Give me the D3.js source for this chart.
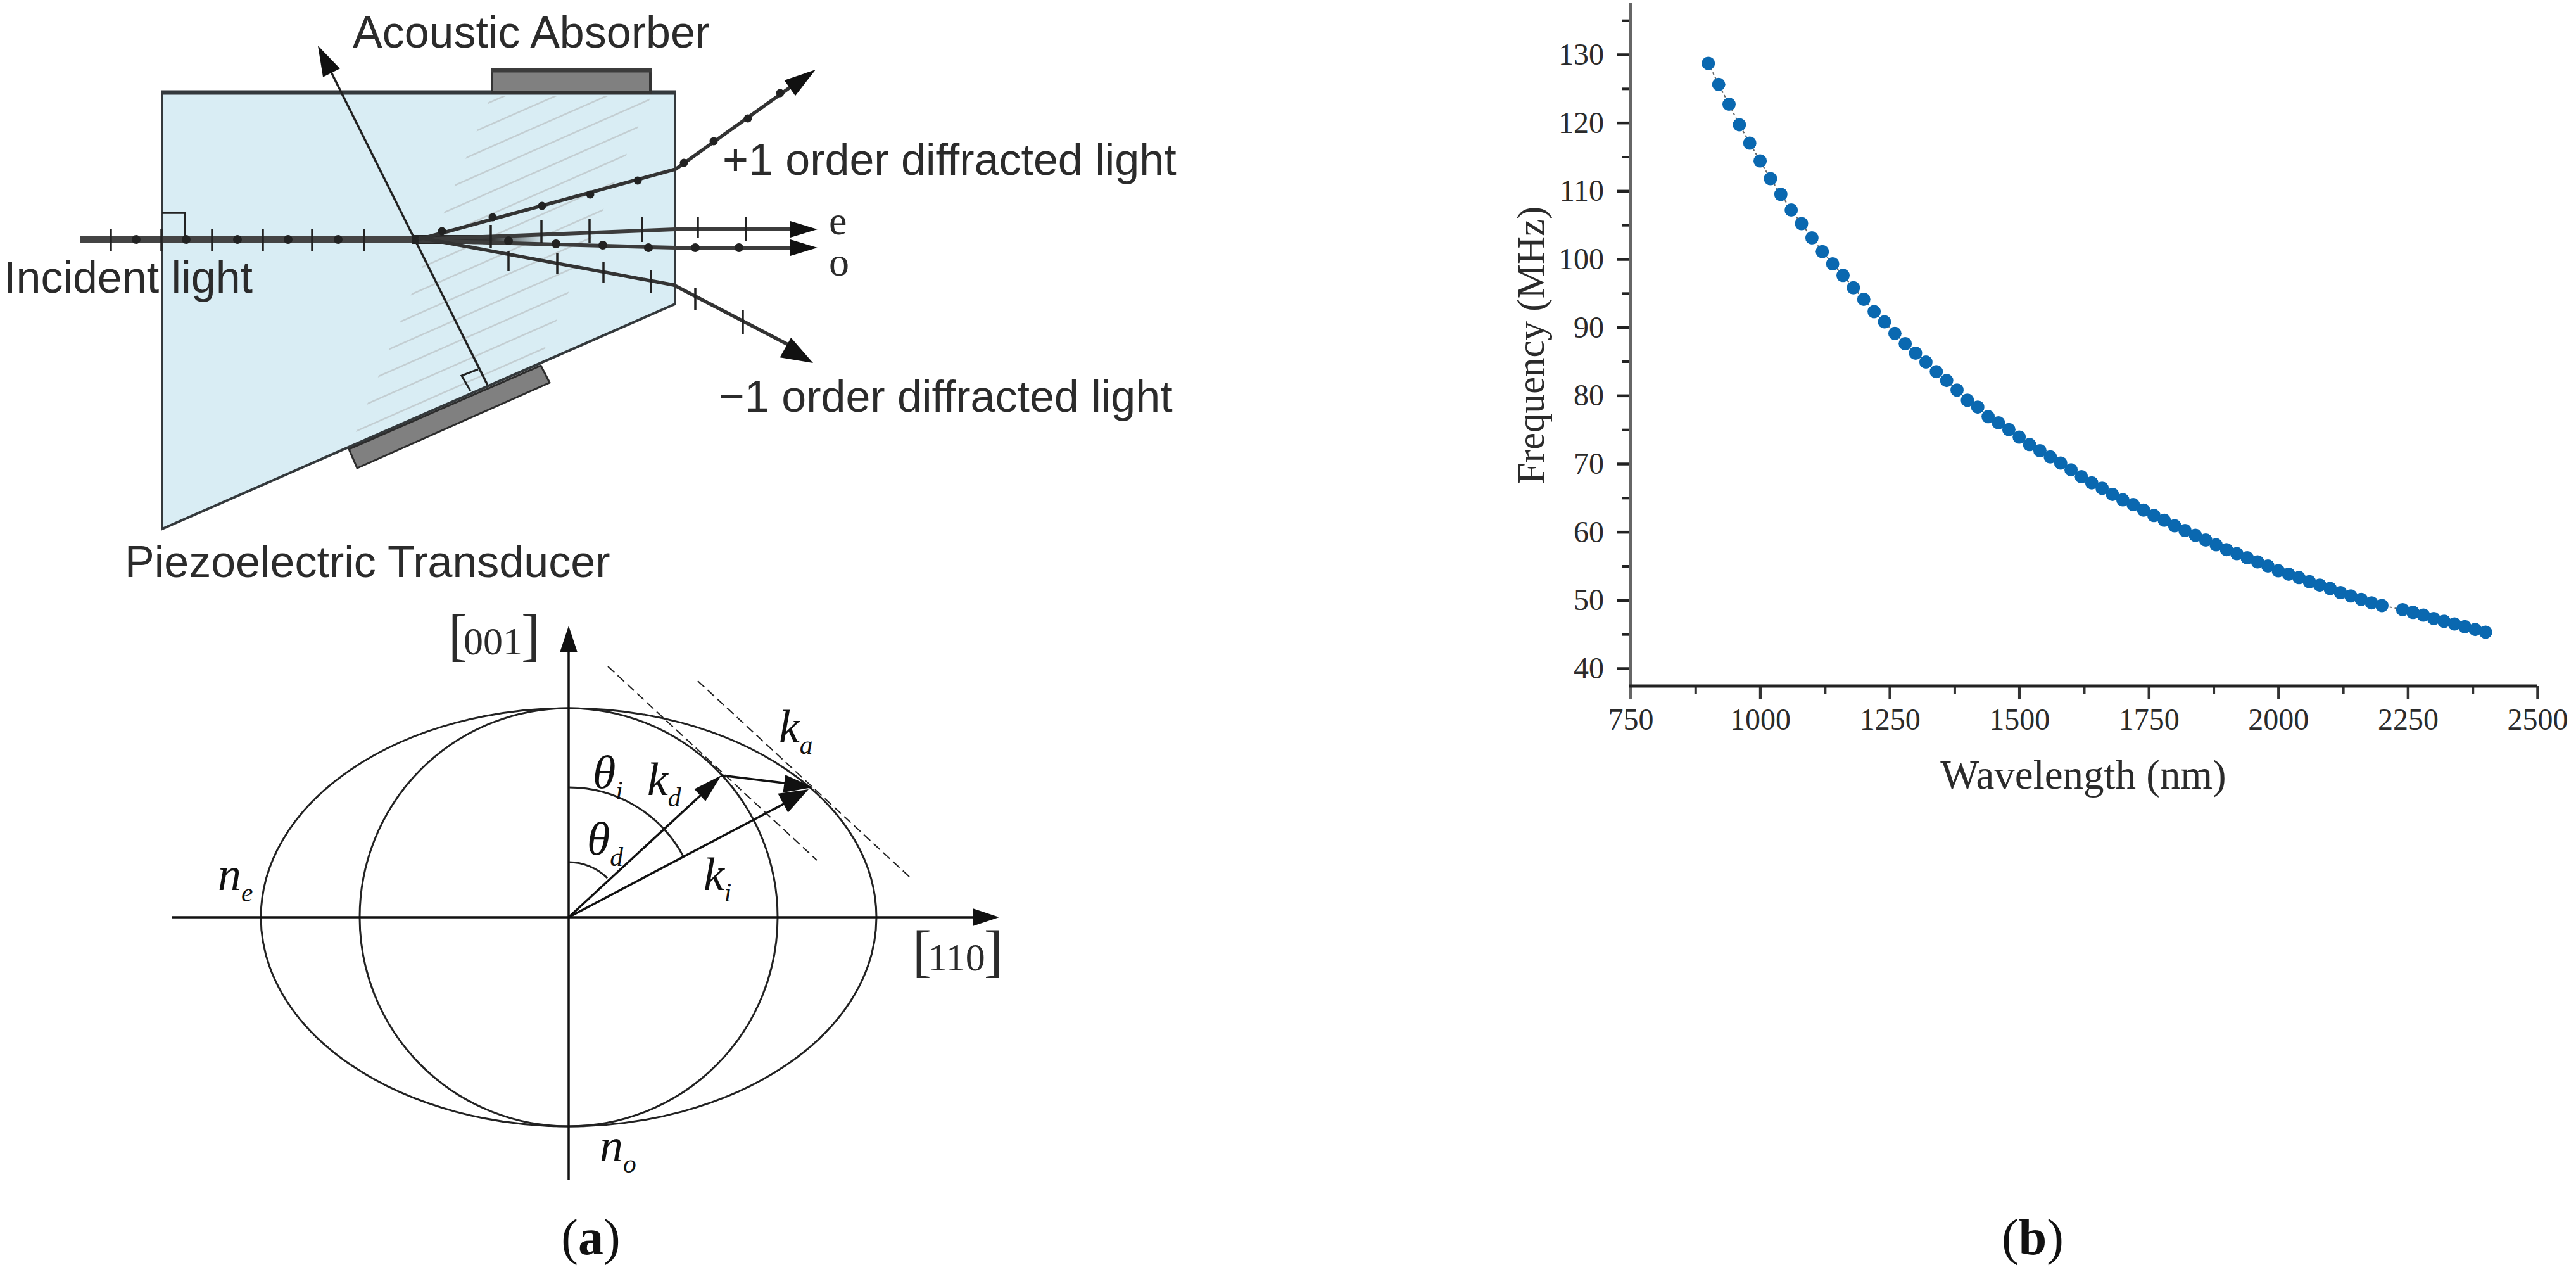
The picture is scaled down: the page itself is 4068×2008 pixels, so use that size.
<!DOCTYPE html>
<html>
<head>
<meta charset="utf-8">
<script src="https://cdn.jsdelivr.net/npm/d3@7"></script>
<style>
  body { margin: 0; background: #fff; }
  svg { display: block; }
  .sans { font-family: "Liberation Sans", Arial, sans-serif; fill: #2b2b2b; }
  .serif { font-family: "Liberation Serif", "Times New Roman", serif; fill: #2b2b2b; }
  .ital { font-family: "Liberation Serif", "Times New Roman", serif; font-style: italic; fill: #111; }
</style>
</head>
<body>
<div id="chart"></div>
<script>
// panel (b) values
var wavelength = [900,920,940,960,980,1000,1020,1040,1060,1080,1100,1120,1140,1160,1180,1200,1220,
    1240,1260,1280,1300,1320,1340,1360,1380,1400,1420,1440,1460,1480,1500,1520,1540,1560,1580,
    1600,1620,1640,1660,1680,1700,1720,1740,1760,1780,1800,1820,1840,1860,1880,1900,1920,1940,
    1960,1980,2000,2020,2040,2060,2080,2100,2120,2140,2160,2180,2200,2240,2260,2280,2300,2320,
    2340,2360,2380,2400];
var frequency = [128.7,125.6,122.7,119.7,117.0,114.4,111.8,109.5,107.2,105.2,103.1,101.1,99.3,97.6,95.8,94.1,92.3,
    90.8,89.1,87.6,86.2,84.9,83.5,82.2,80.8,79.3,78.3,76.9,76.0,75.0,73.9,72.8,71.9,71.0,70.1,
    69.1,68.1,67.2,66.4,65.5,64.7,64.0,63.2,62.4,61.7,60.9,60.2,59.5,58.8,58.1,57.4,56.8,56.2,
    55.6,55.0,54.3,53.8,53.3,52.7,52.2,51.7,51.1,50.6,50.1,49.6,49.2,48.6,48.2,47.8,47.3,46.9,
    46.5,46.1,45.7,45.3];
var xTicks = [750,1000,1250,1500,1750,2000,2250,2500];
var xMinor = [875,1125,1375,1625,1875,2125,2375];
var yTicks = [40,50,60,70,80,90,100,110,120,130];
var yMinor = [45,55,65,75,85,95,105,115,125,135];

var svg = d3.select("#chart").append("svg")
    .attr("width", 4068)
    .attr("height", 2008);

function arrowHead(g, x1, y1, x2, y2, len, wid) {
    var a = Math.atan2(y2 - y1, x2 - x1), c = Math.cos(a), s = Math.sin(a);
    var bx = x2 - c * len, by = y2 - s * len;
    g.append("path")
        .attr("d", d3.line()([[x2, y2], [bx - s * wid / 2, by + c * wid / 2], [bx + s * wid / 2, by - c * wid / 2]]) + "Z")
        .attr("fill", "#111");
}

function polyline(g, pts, w, col) {
    g.append("path")
        .attr("d", d3.line()(pts))
        .attr("fill", "none")
        .attr("stroke", col || "#222")
        .attr("stroke-width", w);
}

function label(g, cls, x, y, size, txt) {
    return g.append("text").attr("class", cls).attr("x", x).attr("y", y)
        .style("font-size", size + "px").text(txt);
}

function subLabel(g, x, y, main, sub, size) {
    var t = g.append("text").attr("class", "ital").attr("x", x).attr("y", y).style("font-size", size + "px");
    t.append("tspan").text(main);
    t.append("tspan").attr("dy", size * 0.24).style("font-size", (size * 0.56) + "px").text(sub);
}

// ---- panel (a), crystal sketch
var top_g = svg.append("g");
var crystal = [[256,146],[1066,146],[1066,480],[256,835]];

top_g.append("path")
    .attr("d", d3.line()(crystal) + "Z")
    .attr("fill", "#d9edf4")
    .attr("stroke", "none");

// hatching of the acoustic column
svg.append("clipPath").attr("id", "hatchClip").append("path")
    .attr("d", d3.line()([[775,152],[1028,152],[858,556],[555,700]]) + "Z");
var hatch = top_g.append("g").attr("clip-path", "url(#hatchClip)");
d3.range(150, 1100, 35.5).forEach(function (y) {
    hatch.append("line")
        .attr("x1", 500).attr("y1", y + 132)
        .attr("x2", 1100).attr("y2", y - 132)
        .attr("stroke", "#c3ced2").attr("stroke-width", 2.5);
});

polyline(top_g, [[1066,146],[1066,480],[256,835],[256,146]], 4, "#34393c");
polyline(top_g, [[254,146],[1068,146]], 7, "#34393c");

top_g.append("path")
    .attr("d", d3.line()([[777,110],[1027,110],[1027,146],[777,146]]) + "Z")
    .attr("fill", "#808080").attr("stroke", "#333").attr("stroke-width", 4);
polyline(top_g, [[775,111],[1029,111]], 7, "#3c3c3c");
top_g.append("path")
    .attr("d", d3.line()([[551,709],[854,577],[868,604],[564,739]]) + "Z")
    .attr("fill", "#808080").attr("stroke", "#2c2c2c").attr("stroke-width", 3);

// acoustic wave vector
polyline(top_g, [[770,608],[512,92]], 3.5);
arrowHead(top_g, 770, 608, 502, 72, 48, 30);
polyline(top_g, [[743,617],[729,593],[755,583]], 3);

// incident beam
var beamFade = svg.append("linearGradient").attr("id", "beamFade");
beamFade.append("stop").attr("offset", 0).attr("stop-color", "#222");
beamFade.append("stop").attr("offset", 0.6).attr("stop-color", "#333");
beamFade.append("stop").attr("offset", 1).attr("stop-color", "#d9edf4");

polyline(top_g, [[126,378],[661,378]], 10, "#444");
top_g.append("rect").attr("x", 650).attr("y", 371).attr("width", 210).attr("height", 14).attr("fill", "url(#beamFade)");
polyline(top_g, [[256,336],[292,336],[292,378]], 3.5);
[175,255,335,415,493,575].forEach(function (x) {
    polyline(top_g, [[x,362],[x,397]], 3.5);
});
[215,294,375,455,534].forEach(function (x) {
    top_g.append("circle").attr("cx", x).attr("cy", 378).attr("r", 7).attr("fill", "#222");
});

// e and o rays
polyline(top_g, [[661,378],[1066,362],[1250,362]], 6, "#3c3c3c");
polyline(top_g, [[661,380],[1066,391],[1250,391]], 6, "#3c3c3c");
arrowHead(top_g, 1230, 362, 1291, 362, 43, 26);
arrowHead(top_g, 1230, 391, 1291, 391, 43, 26);
[[775,355,392],[855,348,383],[931,345,383],[1014,343,382],[1102,342,375],[1178,342,380]].forEach(function (p) {
    polyline(top_g, [[p[0],p[1]],[p[0],p[2]]], 3.5);
});
[[803,380],[878,385],[952,387],[1024,391],[1098,391],[1167,391]].forEach(function (p) {
    top_g.append("circle").attr("cx", p[0]).attr("cy", p[1]).attr("r", 7).attr("fill", "#222");
});

// +1 and -1 orders
polyline(top_g, [[661,378],[1067,267],[1270,122]], 5.5, "#333");
polyline(top_g, [[661,375],[1064,450],[1260,552]], 5.5, "#333");
arrowHead(top_g, 1067, 267, 1288, 110, 50, 30);
arrowHead(top_g, 1064, 450, 1284, 573, 50, 36);
[[698,365],[778,343],[856,325],[932,307],[1007,285],[1080,257],[1127,223],[1181,187],[1232,147]].forEach(function (p) {
    top_g.append("circle").attr("cx", p[0]).attr("cy", p[1]).attr("r", 6.5).attr("fill", "#222");
});
[[803,397,428],[880,400,432],[953,413,446],[1028,427,462],[1098,454,490],[1173,490,527]].forEach(function (p) {
    polyline(top_g, [[p[0],p[1]],[p[0],p[2]]], 3.5);
});

label(top_g, "sans", 557, 75, 70, "Acoustic Absorber");
label(top_g, "sans", 1141, 276, 70, "+1 order diffracted light");
label(top_g, "sans", 1135, 650, 70, "\u22121 order diffracted light");
label(top_g, "sans", 6, 462, 70, "Incident light");
label(top_g, "sans", 197, 911, 70, "Piezoelectric Transducer");
label(top_g, "serif", 1309, 370, 64, "e");
label(top_g, "serif", 1309, 435, 64, "o");

// ---- panel (a), index ellipse
var ell = svg.append("g");
var cx = 898, cy = 1448;

ell.append("ellipse").attr("cx", cx).attr("cy", cy).attr("rx", 486).attr("ry", 330)
    .attr("fill", "none").attr("stroke", "#222").attr("stroke-width", 3);
ell.append("circle").attr("cx", cx).attr("cy", cy).attr("r", 330)
    .attr("fill", "none").attr("stroke", "#222").attr("stroke-width", 3);

polyline(ell, [[272,cy],[1550,cy]], 3.5, "#111");
polyline(ell, [[cx,1862],[cx,1020]], 3.5, "#111");
arrowHead(ell, 272, cy, 1578, cy, 42, 28);
arrowHead(ell, cx, 1862, cx, 988, 42, 28);

polyline(ell, [[cx,cy],[1270,1252]], 3.5, "#111");
arrowHead(ell, cx, cy, 1277, 1246, 46, 34);
polyline(ell, [[cx,cy],[1134,1230]], 3.5, "#111");
arrowHead(ell, cx, cy, 1139, 1224, 46, 26);
polyline(ell, [[1139,1224],[1270,1240]], 3.5, "#111");
arrowHead(ell, 1139, 1224, 1284, 1243, 46, 28);

[[[960,1052],[1290,1358]], [[1102,1075],[1436,1384]]].forEach(function (seg) {
    ell.append("path").attr("d", d3.line()(seg))
        .attr("stroke", "#222").attr("stroke-width", 2).attr("stroke-dasharray", "14 7");
});

var arc = d3.arc().startAngle(0);
ell.append("path").attr("transform", "translate(" + cx + "," + cy + ")")
    .attr("d", arc({innerRadius: 205, outerRadius: 205, endAngle: 1.08}))
    .attr("fill", "none").attr("stroke", "#222").attr("stroke-width", 3);
ell.append("path").attr("transform", "translate(" + cx + "," + cy + ")")
    .attr("d", arc({innerRadius: 87, outerRadius: 87, endAngle: 0.78}))
    .attr("fill", "none").attr("stroke", "#222").attr("stroke-width", 3);

function bracket(g, x, y, digits) {
    var t = g.append("text").attr("class", "serif").attr("x", x).attr("y", y);
    t.append("tspan").style("font-size", "90px").text("[");
    t.append("tspan").attr("dx", -6).style("font-size", "62px").text(digits);
    t.append("tspan").attr("dx", -2).style("font-size", "90px").text("]");
}
bracket(ell, 708, 1033, "001");
bracket(ell, 1441, 1532, "110");
subLabel(ell, 936, 1244, "\u03B8", "i", 74);
subLabel(ell, 927, 1349, "\u03B8", "d", 74);
subLabel(ell, 1022, 1255, "k", "d", 74);
subLabel(ell, 1111, 1405, "k", "i", 74);
subLabel(ell, 1230, 1172, "k", "a", 74);
subLabel(ell, 344, 1405, "n", "e", 74);
subLabel(ell, 947, 1833, "n", "o", 74);

// ---- panel (b), frequency curve
var x = d3.scaleLinear().domain([750, 2500]).range([2575, 4007]);
var y = d3.scaleLinear().domain([40, 130]).range([1055, 86]);
var yBase = 1083, yTop = 5;

var plot = svg.append("g");

function styleAxis(a, col, w) {
    a.select(".domain").remove();
    a.selectAll(".tick line").attr("stroke", col).attr("stroke-width", w);
    a.selectAll(".tick text").attr("class", "serif")
        .style("font-size", "48px").attr("fill", "#2b2b2b");
}

var xAxis = plot.append("g").attr("transform", "translate(0," + yBase + ")")
    .call(d3.axisBottom(x).tickValues(xTicks).tickSize(21).tickPadding(14).tickFormat(d3.format("d")));
styleAxis(xAxis, "#333", 4.5);
var xAxisMinor = plot.append("g").attr("transform", "translate(0," + yBase + ")")
    .call(d3.axisBottom(x).tickValues(xMinor).tickSize(12).tickFormat(""));
styleAxis(xAxisMinor, "#333", 4);

var yAxis = plot.append("g").attr("transform", "translate(2575,0)")
    .call(d3.axisLeft(y).tickValues(yTicks).tickSize(21).tickPadding(21).tickFormat(d3.format("d")));
styleAxis(yAxis, "#222", 4.5);
var yAxisMinor = plot.append("g").attr("transform", "translate(2575,0)")
    .call(d3.axisLeft(y).tickValues(yMinor).tickSize(13).tickFormat(""));
styleAxis(yAxisMinor, "#222", 4);

plot.append("line").attr("x1", 2575).attr("x2", 2575).attr("y1", yTop).attr("y2", yBase + 20)
    .attr("stroke", "#666").attr("stroke-width", 5);
plot.append("line").attr("x1", 2572).attr("x2", 4007).attr("y1", yBase).attr("y2", yBase)
    .attr("stroke", "#222").attr("stroke-width", 5);

var points = wavelength.map(function (w, i) { return [w, frequency[i]]; });

plot.append("path")
    .attr("d", d3.line().x(function (d) { return x(d[0]); }).y(function (d) { return y(d[1]); })(points))
    .attr("fill", "none")
    .attr("stroke", "#666")
    .attr("stroke-width", 2)
    .attr("stroke-dasharray", "4 4");

plot.selectAll("circle.pt").data(points).enter().append("circle")
    .attr("class", "pt")
    .attr("cx", function (d) { return x(d[0]); })
    .attr("cy", function (d) { return y(d[1]); })
    .attr("r", 10.5)
    .attr("fill", "#0a68b0");

label(plot, "serif", 3290, 1245, 65, "Wavelength (nm)").attr("text-anchor", "middle");
label(plot, "serif", 0, 0, 61, "Frequency (MHz)")
    .attr("text-anchor", "middle")
    .attr("transform", "translate(2438,545) rotate(-90)");

// ---- panel letters
function panelLetter(xc, yb, letter) {
    var t = svg.append("text").attr("class", "serif").attr("x", xc).attr("y", yb)
        .attr("text-anchor", "middle").style("font-size", "80px").style("fill", "#111");
    t.append("tspan").text("(");
    t.append("tspan").style("font-weight", "bold").text(letter);
    t.append("tspan").text(")");
}
panelLetter(933, 1980, "a");
panelLetter(3210, 1980, "b");
</script>
</body>
</html>
